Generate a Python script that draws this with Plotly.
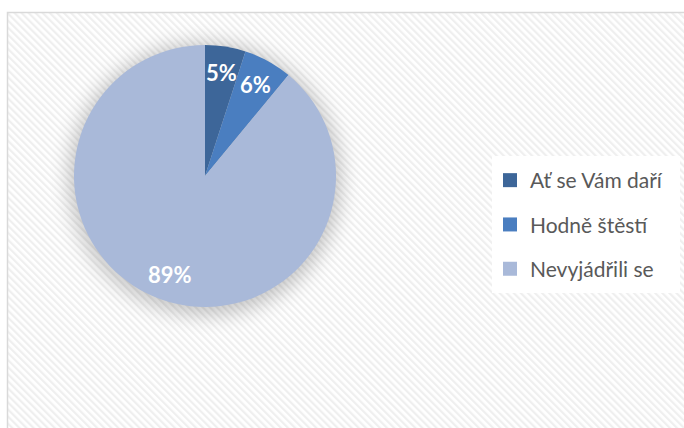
import base64
import math
import plotly.graph_objects as go

# ---- data ----
labels = ["Ať se Vám daří", "Hodně štěstí", "Nevyjádřili se"]
values = [5, 6, 89]
colors = ["#3D6699", "#4A7EC0", "#A9B9D9"]

W, H = 684, 428
# pie geometry (pixels)
cx, cy, r = 205, 176, 131

# background: hatch inside chart frame + soft shadow behind pie
svg = f'''<svg xmlns="http://www.w3.org/2000/svg" width="{W}" height="{H}" viewBox="0 0 {W} {H}">
<defs>
<pattern id="p" width="5" height="5" patternUnits="userSpaceOnUse" patternTransform="rotate(-45)">
<rect width="5" height="5" fill="#ffffff"/><rect width="2.2" height="5" fill="#efefef"/>
</pattern>
<filter id="b" x="-50%" y="-50%" width="200%" height="200%"><feGaussianBlur stdDeviation="10"/></filter>
</defs>
<rect x="7" y="12" width="{W}" height="{H}" fill="url(#p)"/>
<rect x="492" y="156" width="188" height="137" fill="#ffffff"/>
<circle cx="{cx}" cy="{cy+3}" r="{r+5}" fill="#000" opacity="0.22" filter="url(#b)"/>
</svg>'''
src = "data:image/svg+xml;base64," + base64.b64encode(svg.encode()).decode()

fig = go.Figure()
fig.add_trace(go.Pie(
    labels=labels, values=values, sort=False, direction="clockwise", rotation=0,
    marker=dict(colors=colors, line=dict(width=0)),
    textinfo="none", hoverinfo="label+percent", showlegend=False,
    domain=dict(x=[(cx - r) / W, (cx + r) / W], y=[1 - (cy + r) / H, 1 - (cy - r) / H]),
))

# legend entries
for lab, col in zip(labels, colors):
    fig.add_trace(go.Scatter(x=[None], y=[None], mode="markers", name=lab,
                             legendgroup=lab,
                             marker=dict(symbol="square", size=14, color=col)))

# percentage labels at 0.8 r along each slice's mid-angle
total = sum(values)
ann = []
cum = 0
for v in values:
    mid = (cum + v / 2) / total * 2 * math.pi
    cum += v
    px = cx + 0.8 * r * math.sin(mid)
    py = cy - 0.8 * r * math.cos(mid)
    ann.append(dict(x=px / W, y=1 - py / H, xref="paper", yref="paper",
                    xanchor="center", yanchor="middle",
                    text=f"{round(v / total * 100)}%", showarrow=False,
                    font=dict(family="Lato", size=22, color="white", weight="bold")))

fig.update_layout(
    width=W, height=H,
    margin=dict(l=0, r=0, t=0, b=0),
    paper_bgcolor="white", plot_bgcolor="rgba(0,0,0,0)",
    xaxis=dict(visible=False), yaxis=dict(visible=False),
    images=[dict(source=src, xref="paper", yref="paper", x=0, y=1, sizex=1, sizey=1,
                 xanchor="left", yanchor="top", sizing="stretch", layer="below")],
    shapes=[dict(type="rect", xref="paper", yref="paper",
                 x0=7.5 / W, y1=1 - 12.5 / H, x1=1.2, y0=-0.2,
                 line=dict(color="#D9D9D9", width=1.5), fillcolor="rgba(0,0,0,0)")],
    annotations=ann,
    legend=dict(x=490 / W, y=1 - 160 / H, xanchor="left", yanchor="top",
                bgcolor="rgba(0,0,0,0)", borderwidth=0, tracegroupgap=14,
                font=dict(family="Lato", size=21, color="#595959")),
)

fig.write_html("out.html", config={"displayModeBar": False},
               post_script="document.body.style.margin='0';")
